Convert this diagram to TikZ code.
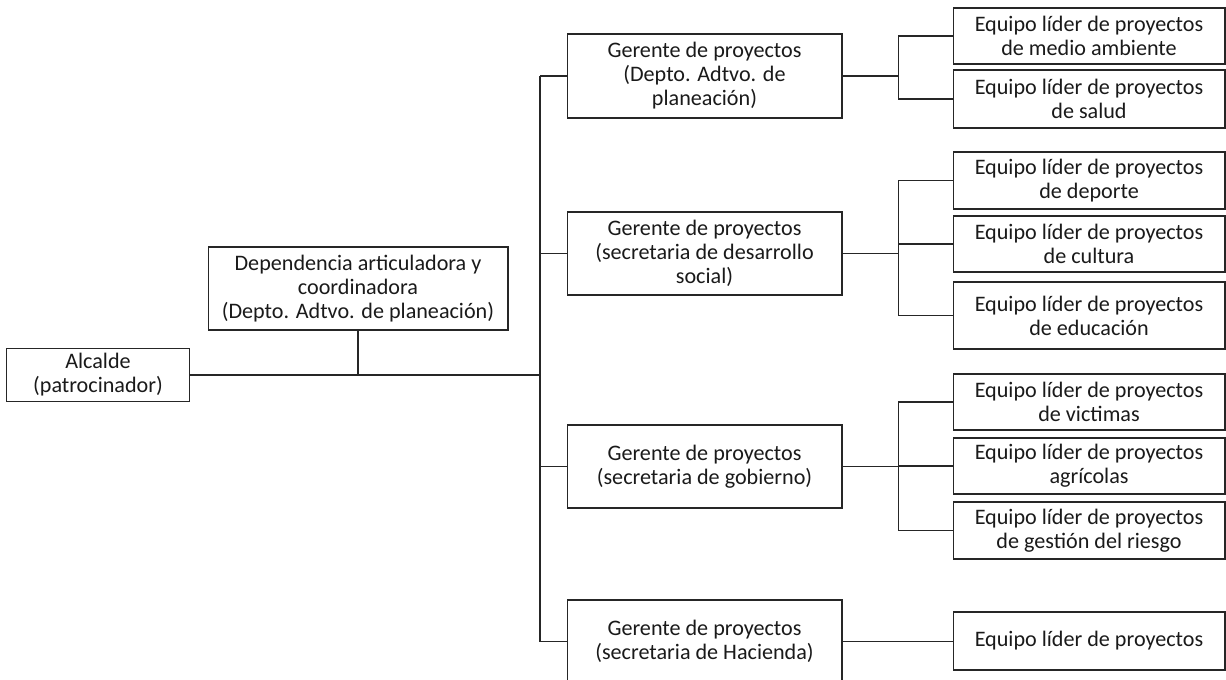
\documentclass[tikz,border=0pt]{standalone}
\usepackage{fontspec}
\setmainfont{Carlito}
\usetikzlibrary{positioning, calc}
\definecolor{lineDark}{HTML}{262626}
\definecolor{textDark}{HTML}{1A1A1A}
\tikzset{
  boxOrg/.style={rectangle, draw=lineDark, line width=0.6pt, fill=white,
                 align=center, text=textDark, inner sep=2pt,
                 font=\fontsize{12.6}{13.7}\selectfont},
  boxTeam/.style={boxOrg, minimum width=5.44cm},
  linkL/.style={draw=lineDark, line width=0.6pt},
}

\begin{document}
\begin{tikzpicture}[x=0.02cm, y=-0.02cm]
    \useasboundingbox (0,0) rectangle (1226,679);
    % sponsor and coordinating office
    \node[boxOrg, minimum width=3.66cm, minimum height=1.06cm] (alcalde) at (98,375) {Alcalde\\(patrocinador)};
    \node[boxOrg, minimum width=6cm, minimum height=1.66cm] (dep) at (358,288.5) {Dependencia articuladora y\\coordinadora\\(Depto. Adtvo. de planeación)};
    % project managers
    \node[boxOrg, minimum width=5.5cm, minimum height=1.68cm] (ger1) at (704.5,76) {Gerente de proyectos\\(Depto. Adtvo. de\\planeación)};
    \node[boxOrg, minimum width=5.5cm, minimum height=1.66cm] (ger2) at (704.5,253.5) {Gerente de proyectos\\(secretaria de desarrollo\\social)};
    \node[boxOrg, minimum width=5.5cm, minimum height=1.66cm] (ger3) at (704.5,466.5) {Gerente de proyectos\\(secretaria de gobierno)};
    \node[boxOrg, minimum width=5.5cm, minimum height=1.66cm] (ger4) at (704.5,641.5) {Gerente de proyectos\\(secretaria de Hacienda)};
    % leading teams
    \node[boxTeam, minimum height=1.12cm] (eq1) at (1089,36) {Equipo líder de proyectos\\de medio ambiente};
    \node[boxTeam, minimum height=1.16cm] (eq2) at (1089,99) {Equipo líder de proyectos\\de salud};
    \node[boxTeam, minimum height=1.14cm] (eq3) at (1089,180.5) {Equipo líder de proyectos\\de deporte};
    \node[boxTeam, minimum height=1.12cm] (eq4) at (1089,244) {Equipo líder de proyectos\\de cultura};
    \node[boxTeam, minimum height=1.34cm] (eq5) at (1089,315.5) {Equipo líder de proyectos\\de educación};
    \node[boxTeam, minimum height=1.12cm] (eq6) at (1089,402) {Equipo líder de proyectos\\de victimas};
    \node[boxTeam, minimum height=1.12cm] (eq7) at (1089,466) {Equipo líder de proyectos\\agrícolas};
    \node[boxTeam, minimum height=1.14cm] (eq8) at (1089,530.5) {Equipo líder de proyectos\\de gestión del riesgo};
    \node[boxTeam, minimum height=1.16cm] (eq9) at (1089,641) {Equipo líder de proyectos};
    % bus on the left
    \coordinate (hub) at (540,375);
    \draw[linkL] (alcalde) -- (hub);
    \draw[linkL] (dep.south) -- (dep.south |- hub);
    \draw[linkL] (ger1.west -| hub) -- (ger4.west -| hub);
    \foreach \g in {ger1, ger2, ger3, ger4}
      \draw[linkL] (\g.west) -- (\g.west -| hub);
    % branches on the right
    \draw[linkL] (ger1.east) -- ++(56,0) coordinate (s1);
    \draw[linkL] (eq1.west) -| (s1) |- (eq2.west);
    \draw[linkL] (ger2.east) -- ++(56,0) coordinate (s2);
    \draw[linkL] (eq3.west) -| (s2) |- (eq5.west);
    \draw[linkL] (s2 |- eq4.west) -- (eq4.west);
    \draw[linkL] (ger3.east) -- ++(56,0) coordinate (s3);
    \draw[linkL] (eq6.west) -| (s3) |- (eq8.west);
    \draw[linkL] (s3 |- eq7.west) -- (eq7.west);
    \draw[linkL] (ger4.east) -- (ger4.east -| eq9.west);
  \end{tikzpicture}
\end{document}
